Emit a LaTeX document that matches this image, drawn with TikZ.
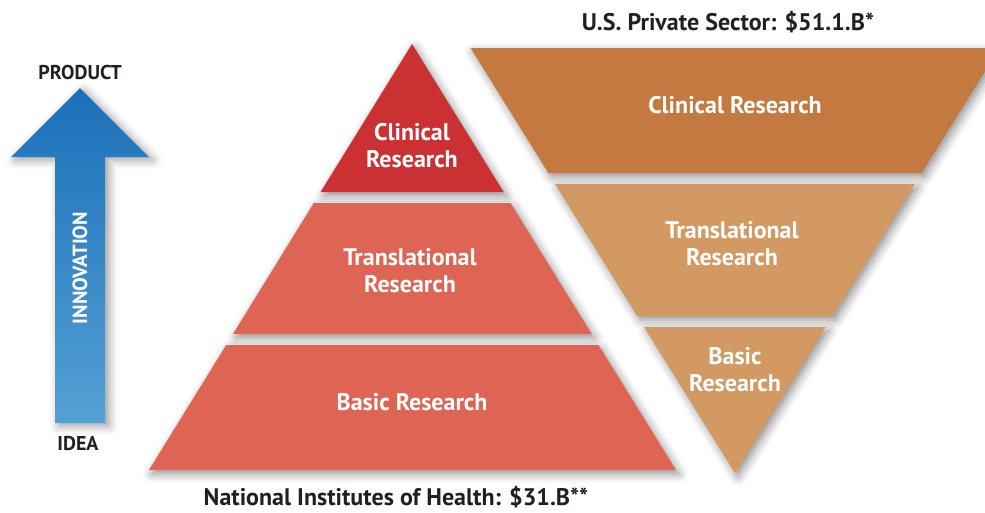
\documentclass[tikz,border=0pt]{standalone}
\usepackage{fontspec}
\setmainfont{PT Sans}
\usetikzlibrary{shadows.blur}
\definecolor{clinred}{HTML}{CB3033}
\definecolor{salmon}{HTML}{DE6554}
\definecolor{darkorange}{HTML}{C47941}
\definecolor{lightorange}{HTML}{D39962}
\definecolor{arrowtop}{HTML}{1A70B8}
\definecolor{arrowbot}{HTML}{55A0D5}
\definecolor{ink}{HTML}{231F20}
\begin{document}
\begin{tikzpicture}[x=1pt,y=-1pt,
  tier/.style={blur shadow={shadow xshift=3pt,shadow yshift=-4pt,shadow blur radius=9pt,shadow opacity=45}},
  lbl/.style={text=white,font=\bfseries\fontsize{24}{27}\selectfont,align=center,inner sep=0pt},
  caption/.style={text=ink,font=\bfseries\fontsize{24}{27}\selectfont,inner sep=0pt},
  axislbl/.style={text=ink,font=\bfseries\fontsize{20}{23}\selectfont,inner sep=0pt}]
\useasboundingbox (0,0) rectangle (985,512);
\clip (0,0) rectangle (985,512);
% NIH pyramid
\path[tier,fill=clinred] (412,44) -- (503.7,192) -- (320.6,192) -- cycle;
\path[tier,fill=salmon] (313.8,203) -- (510.5,203) -- (591.7,334) -- (233,334) -- cycle;
\path[tier,fill=salmon] (226.2,345) -- (598.5,345) -- (676,470) -- (149,470) -- cycle;
% Private sector inverted pyramid
\path[tier,fill=darkorange] (470.6,48) -- (999.4,48) -- (921.6,173) -- (548.4,173) -- cycle;
\path[tier,fill=lightorange] (555.2,184) -- (914.8,184) -- (832.7,316) -- (637.3,316) -- cycle;
\path[tier,fill=lightorange] (644.2,327) -- (825.8,327) -- (735,473) -- cycle;
% Innovation arrow
\path[blur shadow={shadow xshift=4pt,shadow yshift=-3pt,shadow blur radius=9pt,shadow opacity=40},
  top color=arrowtop,bottom color=arrowbot]
  (80,88) -- (149,157) -- (105,157) -- (105,423) -- (55,423) -- (55,157) -- (11,157) -- cycle;
% labels
\node[lbl] (nihclin) at (412,146) {Clinical\\Research};
\node[lbl] (nihtrans) at (410,271) {Translational\\Research};
\node[lbl] (nihbasic) at (412,402) {Basic Research};
\node[lbl] (psclin) at (735,105) {Clinical Research};
\node[lbl] (pstrans) at (732,244) {Translational\\Research};
\node[lbl] (psbasic) at (735,370) {Basic\\Research};
\node[caption] (nih) at (396,497) {National Institutes of Health: \$31.B**};
\node[caption] (ps) at (728,22) {U.S. Private Sector: \$51.1.B*};
\node[axislbl] (product) at (80,72) {PRODUCT};
\node[axislbl] (idea) at (78,444) {IDEA};
\node[lbl,font=\bfseries\fontsize{20.5}{23}\selectfont,rotate=90] (innov) at (80,268) {INNOVATION};
\end{tikzpicture}
\end{document}
